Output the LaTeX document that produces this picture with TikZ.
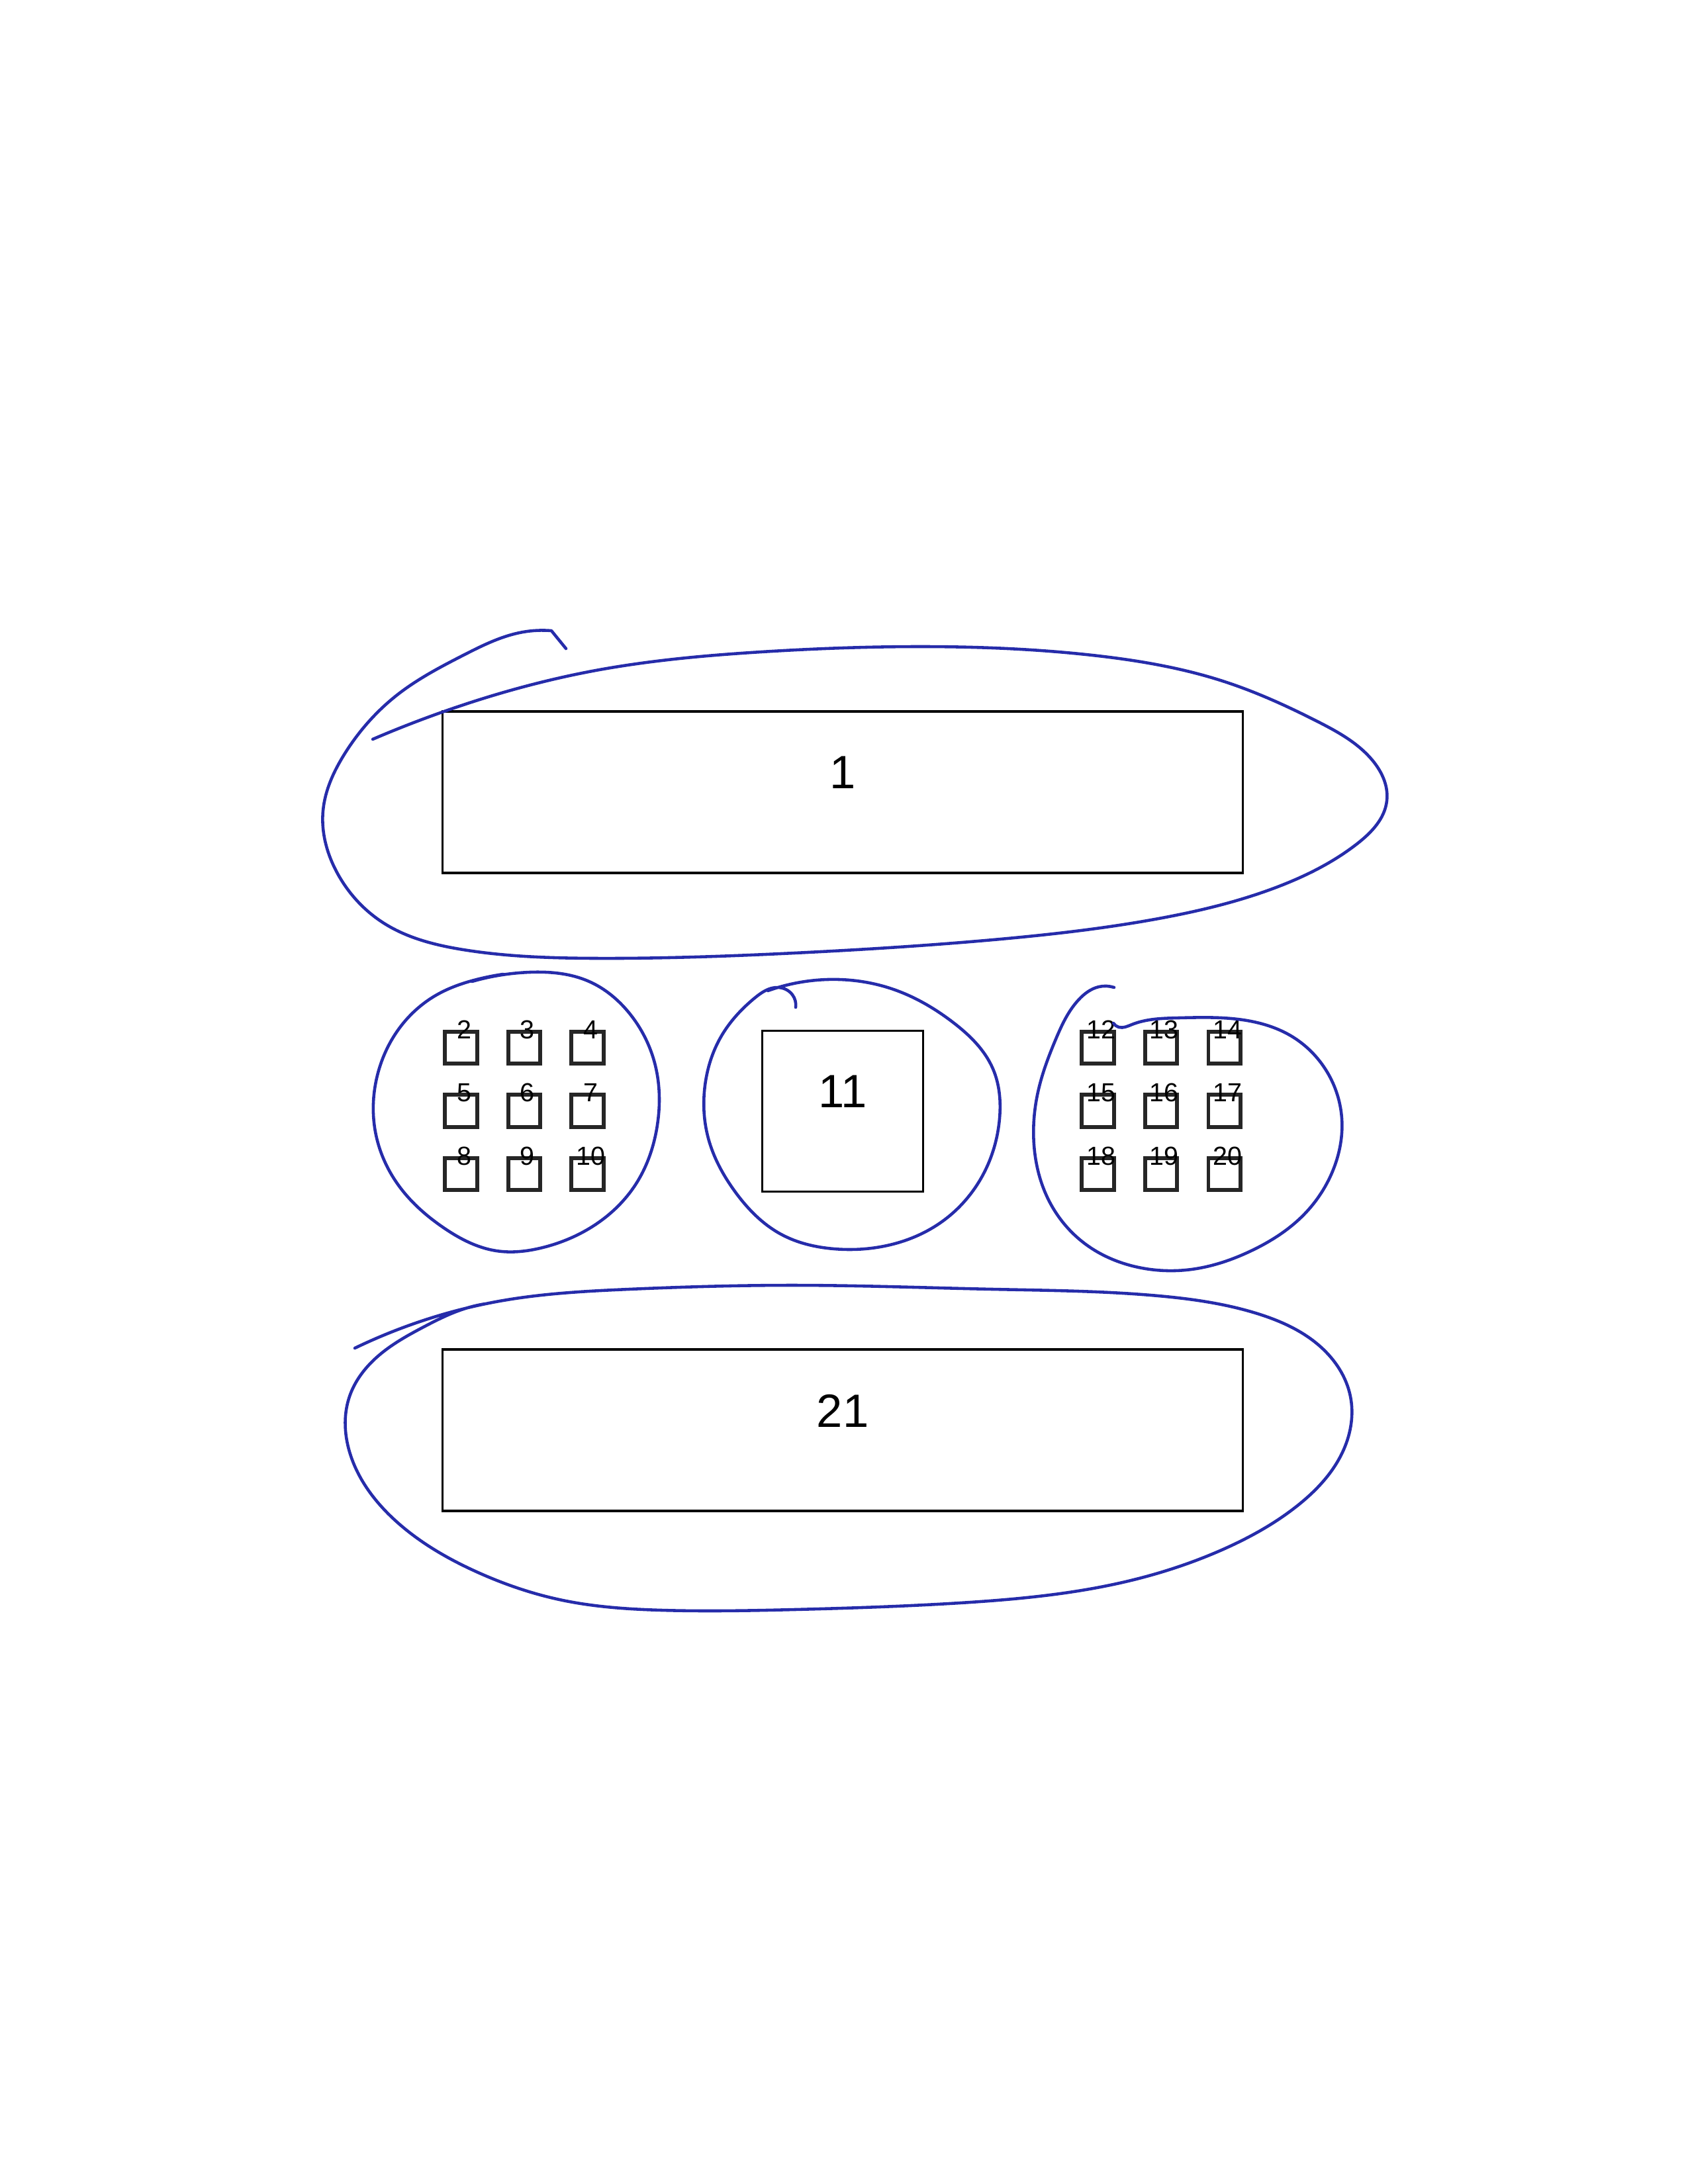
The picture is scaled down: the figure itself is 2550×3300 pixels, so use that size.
\documentclass[tikz,border=0pt]{standalone}
\usepackage{fontspec}
\setmainfont{Liberation Sans}
\usepackage{xcolor}
\usepackage{tikz}
\usetikzlibrary{positioning, hobby}

\definecolor{pen}{RGB}{38,44,170}

\begin{document}
\begin{tikzpicture}[
    x=0.08467mm, y=-0.08467mm,
    node distance=19.9mm,
    bar/.style={rectangle, draw, line width=0.8pt, minimum width=102.4mm, minimum height=20.66mm, inner sep=0pt},
    hub/.style={rectangle, draw, line width=0.8pt, minimum size=20.6mm, inner sep=0pt},
    big/.style={font=\fontsize{17}{20}\selectfont, anchor=center, inner sep=0pt, yshift=2.5mm},
    pin/.style={rectangle, draw=black!85, line width=1.4pt, minimum size=4.1mm, inner sep=0pt},
    tag/.style={font=\fontsize{9.5}{11}\selectfont, anchor=center, inner sep=0pt, xshift=0.4mm},
    ink/.style={pen, line width=1.1pt, line cap=round, line join=round, use Hobby shortcut},
]
    \useasboundingbox (0,0) rectangle (2550,3300);

    % the three big parts
    \node[bar, label={[big]center:1}] (b1) at (1273,1197) {};
    \node[hub, below=of b1, label={[big]center:11}] (b11) {};
    \node[bar, below=of b11, label={[big]center:21}] (b21) {};

    % left block of small parts
    \node[pin, left=of b11.north west, anchor=north east, label={[tag]north:4}] (s4) {};
    \node[pin, left=3.5mm of s4, label={[tag]north:3}] (s3) {};
    \node[pin, left=3.5mm of s3, label={[tag]north:2}] (s2) {};
    \node[pin, below=3.5mm of s2, label={[tag]north:5}] (s5) {};
    \node[pin, below=3.5mm of s3, label={[tag]north:6}] (s6) {};
    \node[pin, below=3.5mm of s4, label={[tag]north:7}] (s7) {};
    \node[pin, below=3.5mm of s5, label={[tag]north:8}] (s8) {};
    \node[pin, below=3.5mm of s6, label={[tag]north:9}] (s9) {};
    \node[pin, below=3.5mm of s7, label={[tag]north:10}] (s10) {};

    % right block of small parts
    \node[pin, right=of b11.north east, anchor=north west, label={[tag]north:12}] (s12) {};
    \node[pin, right=3.5mm of s12, label={[tag]north:13}] (s13) {};
    \node[pin, right=3.5mm of s13, label={[tag]north:14}] (s14) {};
    \node[pin, below=3.5mm of s12, label={[tag]north:15}] (s15) {};
    \node[pin, below=3.5mm of s13, label={[tag]north:16}] (s16) {};
    \node[pin, below=3.5mm of s14, label={[tag]north:17}] (s17) {};
    \node[pin, below=3.5mm of s15, label={[tag]north:18}] (s18) {};
    \node[pin, below=3.5mm of s16, label={[tag]north:19}] (s19) {};
    \node[pin, below=3.5mm of s17, label={[tag]north:20}] (s20) {};

    % hand drawn rings
    \draw[ink] (855,980) -- (833,953) .. (790,955) .. (700,990) .. (600,1050) .. (520,1140) .. (488,1225) .. (510,1320) .. (580,1395) .. (700,1435) .. (900,1448) .. (1200,1440) .. (1500,1420) .. (1750,1388) .. (1930,1340) .. (2050,1275) .. (2095,1210) .. (2070,1145) .. (1990,1090) .. (1850,1030) .. (1650,990) .. (1400,977) .. (1150,985) .. (900,1013) .. (700,1065) .. (563,1117);
    \draw[ink] (713,1483) .. (800,1469) .. (890,1483) .. (950,1530) .. (990,1610) .. (993,1700) .. (960,1790) .. (900,1850) .. (820,1885) .. (750,1890) .. (670,1855) .. (605,1795) .. (568,1715) .. (570,1625) .. (610,1545) .. (660,1503) .. (720,1480) .. (760,1472);
    \draw[ink] (1160,1497) .. (1250,1480) .. (1350,1495) .. (1440,1545) .. (1500,1615) .. (1510,1690) .. (1485,1775) .. (1420,1848) .. (1340,1882) .. (1260,1887) .. (1180,1865) .. (1110,1800) .. (1070,1720) .. (1065,1640) .. (1090,1565) .. (1140,1508) .. (1175,1492) .. (1197,1503) .. (1202,1522);
    \draw[ink] (1683,1492) .. (1660,1491) .. (1630,1510) .. (1595,1570) .. (1568,1650) .. (1562,1730) .. (1585,1815) .. (1640,1880) .. (1720,1915) .. (1800,1918) .. (1890,1890) .. (1970,1835) .. (2015,1765) .. (2027,1690) .. (2005,1620) .. (1950,1565) .. (1870,1540) .. (1780,1538) .. (1710,1548) .. (1690,1552) .. (1682,1546);
    \draw[ink] (536,2037) .. (640,1995) .. (760,1965) .. (950,1948) .. (1200,1942) .. (1500,1948) .. (1750,1958) .. (1900,1985) .. (1995,2035) .. (2040,2110) .. (2030,2190) .. (1960,2275) .. (1850,2340) .. (1700,2390) .. (1450,2422) .. (1200,2432) .. (1000,2433) .. (850,2418) .. (720,2375) .. (600,2300) .. (530,2200) .. (528,2110) .. (570,2050) .. (640,2005) .. (700,1978) .. (733,1970);
\end{tikzpicture}
\end{document}
